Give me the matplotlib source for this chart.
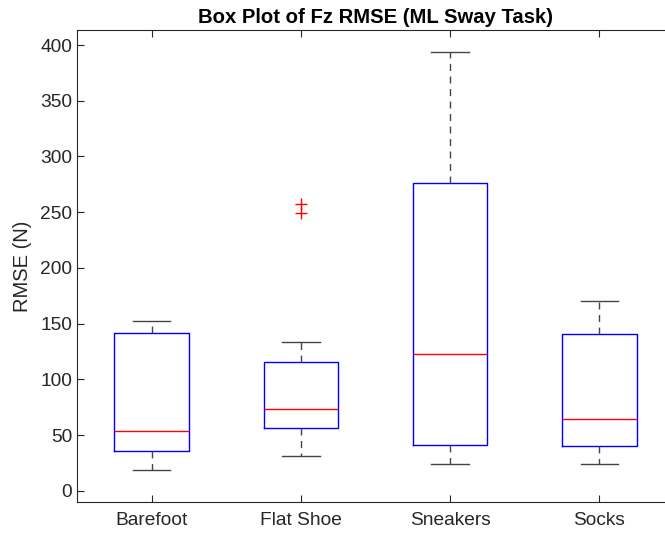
import matplotlib.pyplot as plt

plt.rcParams['font.family'] = ['Liberation Sans', 'DejaVu Sans']

# 各组数据的箱线统计量
groups = ['Barefoot', 'Flat Shoe', 'Sneakers', 'Socks']
whisker_low = [19, 31, 24, 24]
q1 = [36, 56.5, 41, 40.5]
median = [54, 73.5, 123, 64.5]
q3 = [142, 116, 276, 141]
whisker_high = [152, 133.5, 393.5, 170]
outliers = [[], [257.5, 249], [], []]

stats = []
for i in range(len(groups)):
    stats.append({'label': groups[i], 'whislo': whisker_low[i], 'q1': q1[i],
                  'med': median[i], 'q3': q3[i], 'whishi': whisker_high[i],
                  'fliers': outliers[i]})

fig = plt.figure(figsize=(6.65, 5.33), dpi=100)
ax = fig.add_axes([77 / 665, 31 / 533, 597 / 665, 472 / 533])

ax.bxp(stats, positions=[1, 2, 3, 4], widths=0.5, capwidths=0.25,
       boxprops=dict(color='blue', linewidth=1),
       medianprops=dict(color='red', linewidth=1),
       whiskerprops=dict(color='#444444', linewidth=1, linestyle=(0, (5, 4))),
       capprops=dict(color='#444444', linewidth=1),
       flierprops=dict(marker='+', markeredgecolor='red', markersize=8,
                       markeredgewidth=1, linestyle='none'))

ax.set_xlim(0.5, 4.5)
ax.set_ylim(-10, 413.5)
ax.set_yticks(range(0, 401, 50))
ax.set_xticks([1, 2, 3, 4])
ax.set_xticklabels(groups)

for s in ax.spines.values():
    s.set_color('#262626')
    s.set_linewidth(0.8)
ax.tick_params(direction='in', length=5, width=0.8, colors='#262626',
               labelsize=13.8, top=True, right=True, labelcolor='#262626')
ax.tick_params(axis='x', pad=7)

ax.set_ylabel('RMSE (N)', fontsize=14.5, color='#262626', labelpad=6)
ax.set_title('Box Plot of Fz RMSE (ML Sway Task)', fontsize=14.6, fontweight='bold', pad=5)

plt.savefig('out.png', dpi=100)
